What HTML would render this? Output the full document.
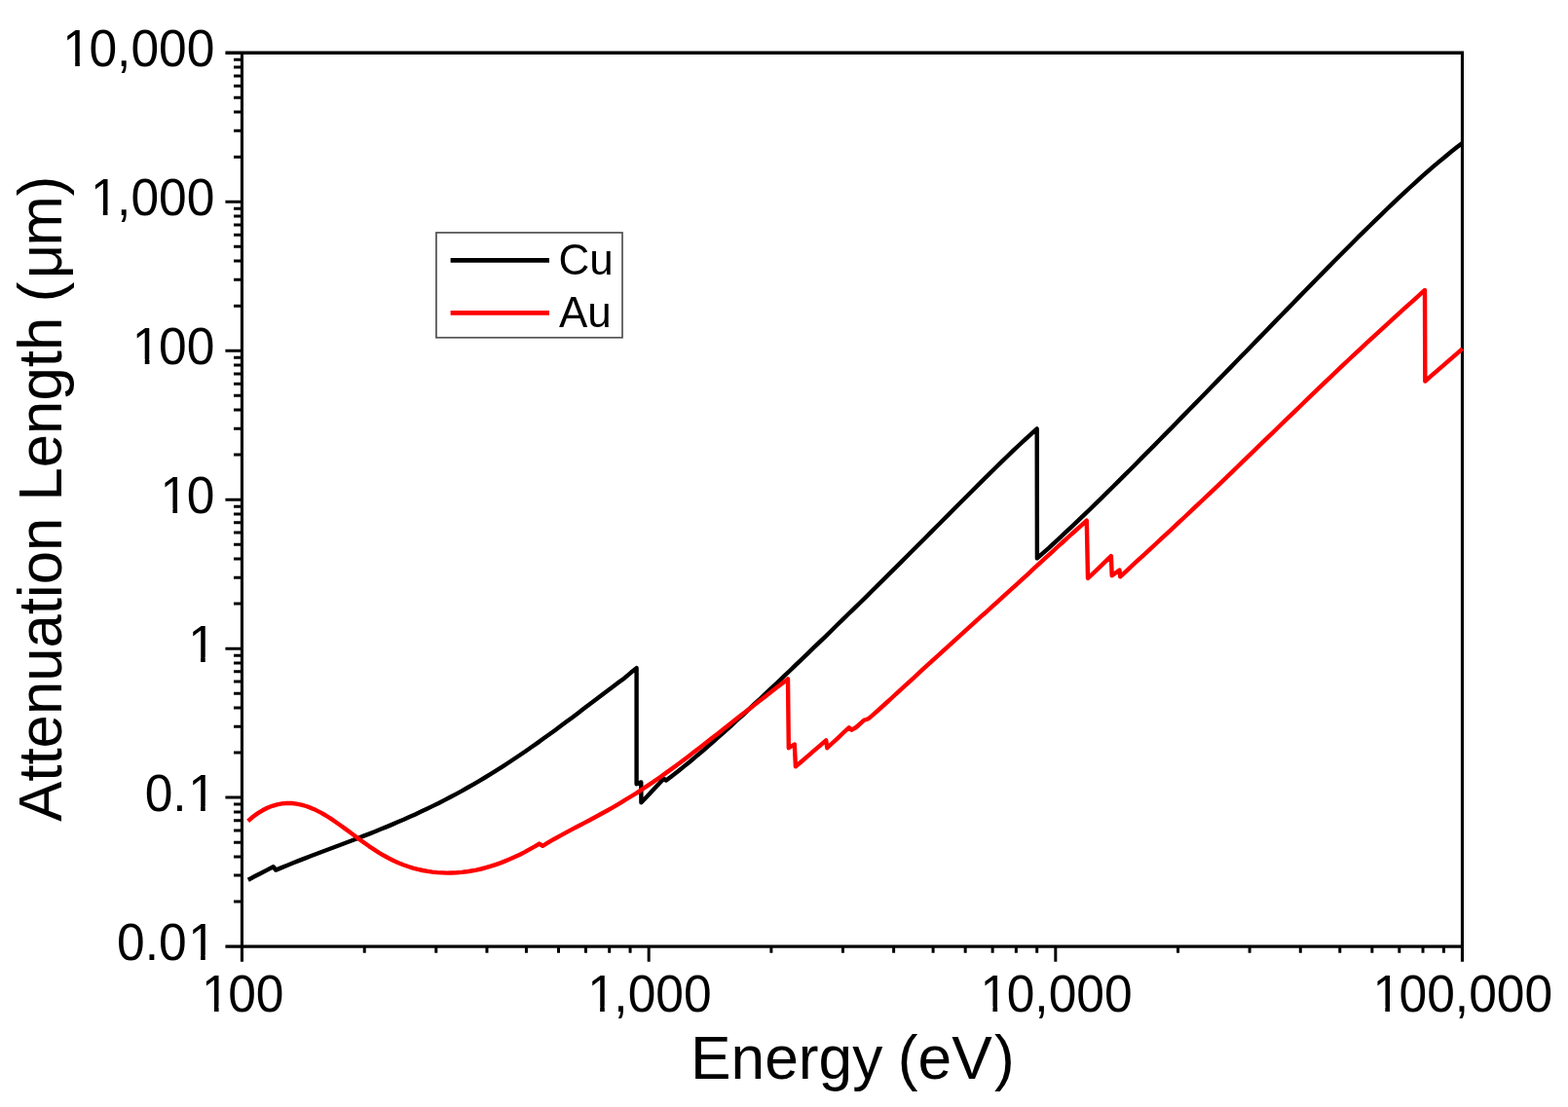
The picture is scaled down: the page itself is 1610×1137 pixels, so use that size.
<!DOCTYPE html>
<html lang="en">
<head>
<meta charset="utf-8">
<title>Attenuation Length vs Energy</title>
<style>
html,body{margin:0;padding:0;background:#fff;}
body{width:1610px;height:1137px;overflow:hidden;}
svg{display:block;}
text{font-family:"Liberation Sans",sans-serif;fill:#000;}
.tick{font-size:51.5px;}
.title{font-size:62.3px;}
.ytitle{font-size:61.7px;}
.leg{font-size:44px;}
.ax{stroke:#000;stroke-width:3.2;fill:none;}
.cu{stroke:#000;stroke-width:4.4;fill:none;stroke-linejoin:round;stroke-linecap:butt;}
.au{stroke:#ff0000;stroke-width:4.4;fill:none;stroke-linejoin:round;stroke-linecap:butt;}
</style>
</head>
<body>
<svg xmlns="http://www.w3.org/2000/svg" width="1610" height="1137" viewBox="0 0 1610 1137">
<rect x="0" y="0" width="1610" height="1137" fill="#fff"/>
<g id="axes">
<path class="ax" style="stroke-width:3.1" d="M248.45,54.25 V987.75 M1501.45,54.25 V987.75"/>
<path class="ax" style="stroke-width:3.3" d="M231.40,54.25 H1503.00"/>
<path class="ax" style="stroke-width:3.1" d="M231.40,972.10 H1503.00"/>
<path class="ax" style="stroke-width:3" d="M240.00,926.05 H248.45 M240.00,899.11 H248.45 M240.00,880.00 H248.45 M240.00,865.18 H248.45 M240.00,853.06 H248.45 M240.00,842.82 H248.45 M240.00,833.95 H248.45 M240.00,826.12 H248.45 M231.40,819.12 H248.45 M240.00,773.07 H248.45 M240.00,746.14 H248.45 M240.00,727.02 H248.45 M240.00,712.20 H248.45 M240.00,700.09 H248.45 M240.00,689.85 H248.45 M240.00,680.97 H248.45 M240.00,673.15 H248.45 M231.40,666.15 H248.45 M240.00,620.10 H248.45 M240.00,593.16 H248.45 M240.00,574.05 H248.45 M240.00,559.23 H248.45 M240.00,547.11 H248.45 M240.00,536.87 H248.45 M240.00,528.00 H248.45 M240.00,520.17 H248.45 M231.40,513.17 H248.45 M240.00,467.12 H248.45 M240.00,440.19 H248.45 M240.00,421.07 H248.45 M240.00,406.25 H248.45 M240.00,394.14 H248.45 M240.00,383.90 H248.45 M240.00,375.02 H248.45 M240.00,367.20 H248.45 M231.40,360.20 H248.45 M240.00,314.15 H248.45 M240.00,287.21 H248.45 M240.00,268.10 H248.45 M240.00,253.28 H248.45 M240.00,241.16 H248.45 M240.00,230.92 H248.45 M240.00,222.05 H248.45 M240.00,214.22 H248.45 M231.40,207.23 H248.45 M240.00,161.17 H248.45 M240.00,134.24 H248.45 M240.00,115.12 H248.45 M240.00,100.30 H248.45 M240.00,88.19 H248.45 M240.00,77.95 H248.45 M240.00,69.07 H248.45 M240.00,61.25 H248.45 M374.23,972.10 V978.65 M447.78,972.10 V978.65 M499.96,972.10 V978.65 M540.44,972.10 V978.65 M573.51,972.10 V978.65 M601.47,972.10 V978.65 M625.69,972.10 V978.65 M647.06,972.10 V978.65 M666.17,972.10 V987.75 M791.90,972.10 V978.65 M865.44,972.10 V978.65 M917.63,972.10 V978.65 M958.10,972.10 V978.65 M991.17,972.10 V978.65 M1019.14,972.10 V978.65 M1043.36,972.10 V978.65 M1064.72,972.10 V978.65 M1083.83,972.10 V987.75 M1209.56,972.10 V978.65 M1283.11,972.10 V978.65 M1335.29,972.10 V978.65 M1375.77,972.10 V978.65 M1408.84,972.10 V978.65 M1436.80,972.10 V978.65 M1461.02,972.10 V978.65 M1482.39,972.10 V978.65"/>
</g>
<g id="curves">
<path class="cu" d="M254.8,903.7 L261.2,900.3 L267.7,897.0 L274.1,893.6 L280.6,890.2 L283.2,893.6 L289.2,891.1 L295.1,888.7 L301.1,886.3 L307.1,883.9 L313.0,881.6 L319.0,879.3 L325.0,877.0 L330.9,874.7 L336.9,872.5 L342.9,870.2 L348.9,868.0 L354.8,865.8 L360.8,863.5 L366.8,861.2 L372.7,858.9 L378.7,856.6 L384.7,854.2 L390.6,851.8 L396.6,849.4 L402.6,846.9 L408.5,844.3 L414.5,841.8 L420.5,839.1 L426.4,836.4 L432.4,833.6 L438.4,830.8 L444.3,827.9 L450.3,825.0 L456.3,821.9 L462.2,818.8 L468.2,815.6 L474.2,812.4 L480.1,809.0 L486.1,805.6 L492.1,802.1 L498.1,798.5 L504.0,794.9 L510.0,791.2 L516.0,787.4 L521.9,783.5 L527.9,779.5 L533.9,775.5 L539.8,771.5 L545.8,767.3 L551.8,763.1 L557.7,758.8 L563.7,754.5 L569.7,750.2 L575.6,745.8 L581.6,741.3 L587.6,736.9 L593.5,732.4 L599.5,727.8 L605.5,723.3 L611.5,718.8 L617.4,714.2 L623.4,709.7 L629.4,705.3 L635.3,700.8 L641.3,696.4 L647.8,690.8 L653.6,686.2 L653.6,805.3 L657.8,803.5 L658.3,803.5 L658.4,824.3 L664.2,818.2 L670.0,812.0 L675.7,805.9 L681.5,799.8 L684.0,801.6 L690.0,797.0 L696.1,792.3 L702.1,787.4 L708.2,782.5 L714.2,777.4 L720.3,772.3 L726.3,767.0 L732.3,761.8 L738.4,756.4 L744.4,751.0 L750.5,745.5 L756.5,740.0 L762.6,734.5 L768.6,728.9 L774.6,723.2 L780.7,717.6 L786.7,711.9 L792.8,706.2 L798.8,700.5 L804.9,694.7 L810.9,689.0 L816.9,683.2 L823.0,677.4 L829.0,671.6 L835.1,665.7 L841.1,659.9 L847.2,654.1 L853.2,648.2 L859.2,642.3 L865.3,636.4 L871.3,630.5 L877.4,624.6 L883.4,618.7 L889.5,612.8 L895.5,606.8 L901.5,600.9 L907.6,594.9 L913.6,588.9 L919.7,582.9 L925.7,576.9 L931.8,570.8 L937.8,564.8 L943.8,558.7 L949.9,552.7 L955.9,546.6 L962.0,540.5 L968.0,534.5 L974.1,528.4 L980.1,522.3 L986.1,516.3 L992.2,510.2 L998.2,504.2 L1004.3,498.1 L1010.3,492.1 L1016.4,486.2 L1022.4,480.2 L1028.4,474.4 L1034.5,468.5 L1040.5,462.7 L1046.6,457.0 L1052.6,451.4 L1058.7,445.8 L1064.7,440.4 L1064.9,573.4 L1070.9,568.1 L1076.9,562.8 L1082.8,557.3 L1088.8,551.8 L1094.8,546.2 L1100.8,540.6 L1106.8,534.9 L1112.8,529.2 L1118.7,523.5 L1124.7,517.6 L1130.7,511.8 L1136.7,505.9 L1142.7,500.0 L1148.6,494.1 L1154.6,488.1 L1160.6,482.2 L1166.6,476.2 L1172.5,470.1 L1178.5,464.1 L1184.5,458.1 L1190.5,452.0 L1196.5,445.9 L1202.5,439.9 L1208.4,433.8 L1214.4,427.6 L1220.4,421.5 L1226.4,415.4 L1232.4,409.3 L1238.3,403.2 L1244.3,397.0 L1250.3,390.9 L1256.3,384.8 L1262.3,378.6 L1268.2,372.5 L1274.2,366.3 L1280.2,360.2 L1286.2,354.0 L1292.2,347.9 L1298.2,341.7 L1304.1,335.6 L1310.1,329.4 L1316.1,323.3 L1322.1,317.1 L1328.1,311.0 L1334.0,304.9 L1340.0,298.7 L1346.0,292.6 L1352.0,286.5 L1358.0,280.4 L1363.9,274.4 L1369.9,268.3 L1375.9,262.3 L1381.9,256.2 L1387.9,250.2 L1393.8,244.3 L1399.8,238.4 L1405.8,232.5 L1411.8,226.6 L1417.8,220.8 L1423.8,215.0 L1429.7,209.3 L1435.7,203.6 L1441.7,198.1 L1447.7,192.5 L1453.7,187.1 L1459.6,181.7 L1465.6,176.4 L1471.6,171.2 L1477.6,166.1 L1483.6,161.2 L1489.5,156.3 L1495.5,151.6 L1501.5,147.0"/>
<path class="au" d="M254.6,843.3 L259.6,839.0 L264.6,835.4 L269.6,832.3 L274.5,829.7 L279.5,827.8 L284.5,826.3 L289.5,825.4 L294.5,825.0 L299.5,825.0 L304.4,825.6 L309.4,826.6 L314.4,828.0 L319.4,829.9 L324.4,832.1 L329.4,834.6 L334.4,837.5 L339.4,840.6 L344.3,844.0 L349.3,847.5 L354.3,851.1 L359.3,854.8 L364.3,858.5 L369.2,862.2 L374.2,865.8 L379.2,869.3 L384.2,872.6 L389.2,875.8 L394.2,878.8 L399.2,881.5 L404.1,884.0 L409.1,886.2 L414.1,888.2 L419.1,890.0 L424.1,891.6 L429.1,892.9 L434.1,894.0 L439.1,894.9 L444.0,895.6 L449.0,896.1 L454.0,896.4 L459.0,896.6 L464.0,896.5 L469.0,896.3 L473.9,895.9 L478.9,895.3 L483.9,894.5 L488.9,893.6 L493.9,892.5 L498.9,891.2 L503.9,889.7 L508.8,888.1 L513.8,886.4 L518.8,884.4 L523.8,882.3 L528.8,880.1 L533.8,877.7 L538.8,875.1 L543.7,872.4 L548.7,869.6 L553.7,866.6 L557.2,868.8 L563.2,865.2 L569.2,861.7 L575.2,858.4 L581.2,855.1 L587.2,851.9 L593.2,848.8 L599.2,845.6 L605.2,842.5 L611.2,839.3 L617.1,836.0 L623.1,832.7 L629.1,829.3 L635.1,825.8 L641.1,822.2 L647.1,818.5 L653.1,814.8 L659.1,810.9 L665.1,806.9 L671.1,802.9 L677.1,798.7 L683.1,794.4 L689.1,790.1 L695.1,785.7 L701.1,781.2 L707.1,776.7 L713.1,772.1 L719.1,767.5 L725.1,762.8 L731.1,758.1 L737.1,753.4 L743.0,748.7 L749.0,744.0 L755.0,739.3 L761.0,734.6 L767.0,729.9 L773.0,725.2 L779.0,720.5 L785.0,715.9 L791.0,711.3 L797.0,706.6 L803.0,702.0 L809.0,697.4 L809.8,768.2 L815.8,764.5 L816.9,787.4 L823.2,782.0 L829.4,776.6 L835.7,771.2 L841.9,765.8 L848.2,760.4 L849.3,768.2 L854.9,763.0 L860.5,757.8 L866.1,752.5 L871.7,747.3 L874.6,749.7 L879.1,747.0 L887.3,739.6 L889.5,739.0 L891.8,738.2 L897.9,732.9 L903.9,727.5 L910.0,722.0 L916.0,716.5 L922.1,710.9 L928.1,705.4 L934.2,699.8 L940.2,694.3 L946.3,688.7 L952.3,683.2 L958.4,677.6 L964.5,672.1 L970.5,666.6 L976.6,661.1 L982.6,655.6 L988.7,650.1 L994.7,644.7 L1000.8,639.2 L1006.8,633.7 L1012.9,628.3 L1018.9,622.8 L1025.0,617.3 L1031.0,611.9 L1037.1,606.4 L1043.2,600.9 L1049.2,595.3 L1055.3,589.8 L1061.3,584.2 L1067.4,578.7 L1073.4,573.1 L1079.5,567.6 L1085.5,562.0 L1091.6,556.5 L1097.6,551.0 L1103.7,545.5 L1109.8,540.1 L1115.8,534.7 L1117.0,594.0 L1123.0,588.3 L1129.0,582.6 L1134.9,576.9 L1140.9,571.2 L1141.7,591.2 L1149.5,585.5 L1150.2,592.3 L1156.2,586.8 L1162.2,581.2 L1168.2,575.7 L1174.3,570.1 L1180.3,564.6 L1186.3,559.0 L1192.3,553.4 L1198.3,547.9 L1204.3,542.3 L1210.3,536.6 L1216.4,531.0 L1222.4,525.4 L1228.4,519.7 L1234.4,514.0 L1240.4,508.3 L1246.5,502.6 L1252.5,496.8 L1258.5,491.1 L1264.5,485.3 L1270.5,479.5 L1276.5,473.7 L1282.5,467.9 L1288.5,462.1 L1294.6,456.2 L1300.6,450.4 L1306.6,444.6 L1312.6,438.7 L1318.6,432.9 L1324.7,427.1 L1330.7,421.3 L1336.7,415.5 L1342.7,409.7 L1348.7,403.9 L1354.7,398.1 L1360.7,392.4 L1366.8,386.6 L1372.8,380.9 L1378.8,375.2 L1384.8,369.5 L1390.8,363.9 L1396.8,358.3 L1402.8,352.7 L1408.9,347.1 L1414.9,341.6 L1420.9,336.1 L1426.9,330.6 L1432.9,325.1 L1438.9,319.6 L1445.0,314.2 L1451.0,308.8 L1457.0,303.4 L1463.0,298.0 L1463.3,391.5 L1469.7,385.9 L1476.1,380.4 L1482.5,374.9 L1488.8,369.3 L1495.2,363.8 L1501.6,358.2"/>
</g>
<g id="ylabels">
<g transform="translate(120.07,985.90) scale(1,1.04)"><text class="tick" dx="0 0 0 1.5">0.01</text><rect fill="#fff" x="75.81" y="-4.75" width="10.18" height="5.95"/><rect fill="#fff" x="90.64" y="-4.75" width="9.83" height="5.95"/></g>
<g transform="translate(148.71,832.92) scale(1,1.04)"><text class="tick" dx="0 0 1.5">0.1</text><rect fill="#fff" x="47.17" y="-4.75" width="10.18" height="5.95"/><rect fill="#fff" x="62.00" y="-4.75" width="9.83" height="5.95"/></g>
<g transform="translate(191.66,679.95) scale(1,1.04)"><text class="tick" dx="1.5">1</text><rect fill="#fff" x="4.22" y="-4.75" width="10.18" height="5.95"/><rect fill="#fff" x="19.05" y="-4.75" width="9.83" height="5.95"/></g>
<g transform="translate(163.02,526.97) scale(1,1.04)"><text class="tick" dx="1.5 -1.5">10</text><rect fill="#fff" x="4.22" y="-4.75" width="10.18" height="5.95"/><rect fill="#fff" x="19.05" y="-4.75" width="9.83" height="5.95"/></g>
<g transform="translate(134.37,374.00) scale(1,1.04)"><text class="tick" dx="1.5 -1.5 0">100</text><rect fill="#fff" x="4.22" y="-4.75" width="10.18" height="5.95"/><rect fill="#fff" x="19.05" y="-4.75" width="9.83" height="5.95"/></g>
<g transform="translate(91.42,221.03) scale(1,1.04)"><text class="tick" dx="1.5 -1.5 0 0 0">1,000</text><rect fill="#fff" x="4.22" y="-4.75" width="10.18" height="5.95"/><rect fill="#fff" x="19.05" y="-4.75" width="9.83" height="5.95"/></g>
<g transform="translate(62.78,68.05) scale(1,1.04)"><text class="tick" dx="1.5 -1.5 0 0 0 0">10,000</text><rect fill="#fff" x="4.22" y="-4.75" width="10.18" height="5.95"/><rect fill="#fff" x="19.05" y="-4.75" width="9.83" height="5.95"/></g>
</g>
<g id="xlabels">
<g transform="translate(205.54,1038.50) scale(1,1.04)"><text class="tick" dx="1.5 -1.5 0">100</text><rect fill="#fff" x="4.22" y="-4.75" width="10.18" height="5.95"/><rect fill="#fff" x="19.05" y="-4.75" width="9.83" height="5.95"/></g>
<g transform="translate(601.73,1038.50) scale(1,1.04)"><text class="tick" dx="1.5 -1.5 0 0 0">1,000</text><rect fill="#fff" x="4.22" y="-4.75" width="10.18" height="5.95"/><rect fill="#fff" x="19.05" y="-4.75" width="9.83" height="5.95"/></g>
<g transform="translate(1005.07,1038.50) scale(1,1.04)"><text class="tick" dx="1.5 -1.5 0 0 0 0">10,000</text><rect fill="#fff" x="4.22" y="-4.75" width="10.18" height="5.95"/><rect fill="#fff" x="19.05" y="-4.75" width="9.83" height="5.95"/></g>
<g transform="translate(1407.92,1038.50) scale(1,1.04)"><text class="tick" dx="1.5 -1.5 0 0 0 0 0">100,000</text><rect fill="#fff" x="4.22" y="-4.75" width="10.18" height="5.95"/><rect fill="#fff" x="19.05" y="-4.75" width="9.83" height="5.95"/></g>
</g>
<text class="title" text-anchor="middle" dx="0 0 0 0 0 0 0 -1.9 0 0 2.4" transform="translate(875.40,1107.60) scale(1,1.015)">Energy (eV)</text>
<text class="ytitle" text-anchor="middle" dx="0 0 0 0 0 0 0 0 0 0 0 0 0 0 0 0 0 0 0 -1.5 3.3 -1.8 0" transform="translate(63.40,512.20) rotate(-90) scale(1,1.02)">Attenuation Length (μm)</text>
<g id="legend">
<rect x="447.95" y="238.95" width="191.05" height="107.8" fill="#fff" stroke="#505050" stroke-width="1.7"/>
<path class="cu" style="stroke-width:4.7" d="M462.6,267.45 H564"/>
<path class="au" style="stroke-width:4.7" d="M462.6,321.35 H564"/>
<text class="leg" transform="translate(573.60,282.30) scale(1,1.02)">Cu</text>
<text class="leg" transform="translate(574.00,336.20) scale(1,1.02)">Au</text>
</g>
</svg>
</body>
</html>
